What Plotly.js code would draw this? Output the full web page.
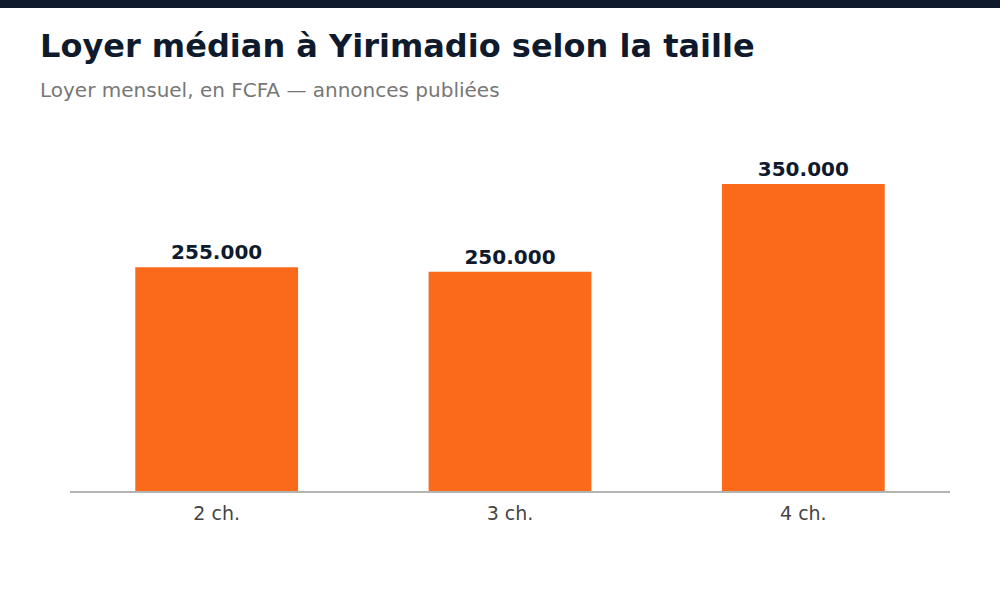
<!DOCTYPE html>
<html>
<head>
<meta charset="utf-8">
<script src="https://cdn.plot.ly/plotly-3.0.1.min.js"></script>
<style>html,body{margin:0;padding:0;background:#fff;}#chart{width:1000px;height:600px;}</style>
</head>
<body>
<div id="chart"></div>
<script>
const categories = ["2 ch.", "3 ch.", "4 ch."];
const medianRent = [255000, 250000, 350000];
const titleText = "Loyer médian à Yirimadio selon la taille";
const subtitleText = "Loyer mensuel, en FCFA — annonces publiées";

const M = {l: 70, r: 50, t: 138, b: 109};
const H = 600, plotH = H - M.t - M.b, plotW = 1000 - M.l - M.r;
const py = px => (H - M.b - px) / plotH;   // pixel from top -> paper y
const pxX = px => (px - M.l) / plotW;      // pixel from left -> paper x

const trace = {
  type: "bar",
  x: categories,
  y: medianRent,
  marker: {color: "#fb6a1a"},
  width: 0.555,
  text: medianRent,
  texttemplate: "%{y:,.0f}",
  textposition: "outside",
  cliponaxis: false,
  textfont: {family: "DejaVu Sans", size: 20, color: "#0f1b2d", weight: "bold"},
  hoverinfo: "skip"
};

const layout = {
  width: 1000, height: 600,
  margin: M,
  paper_bgcolor: "#fff", plot_bgcolor: "#fff",
  separators: ",.",
  showlegend: false,
  font: {family: "DejaVu Sans"},
  xaxis: {
    showline: true, linecolor: "#b3b3b3", linewidth: 2,
    ticks: "", showgrid: false, zeroline: false,
    ticklabelstandoff: 4,
    tickfont: {family: "DejaVu Sans", size: 19, color: "#444"}
  },
  yaxis: {
    range: [0, 402500], visible: false, showgrid: false, zeroline: false
  },
  shapes: [{
    type: "rect", xref: "paper", yref: "paper",
    x0: pxX(0), x1: pxX(1000), y0: py(8), y1: py(0),
    fillcolor: "#0f1b2d", line: {width: 0}, layer: "above"
  }],
  annotations: [
    {text: "<b>" + titleText + "</b>", xref: "paper", yref: "paper",
     x: pxX(38), y: py(46), xanchor: "left", yanchor: "middle", showarrow: false,
     font: {family: "DejaVu Sans", size: 32, color: "#0f1b2d"}},
    {text: subtitleText, xref: "paper", yref: "paper",
     x: pxX(38), y: py(90), xanchor: "left", yanchor: "middle", showarrow: false,
     font: {family: "DejaVu Sans", size: 20, color: "#777"}}
  ]
};

Plotly.newPlot("chart", [trace], layout, {displayModeBar: false, staticPlot: true});
</script>
</body>
</html>
